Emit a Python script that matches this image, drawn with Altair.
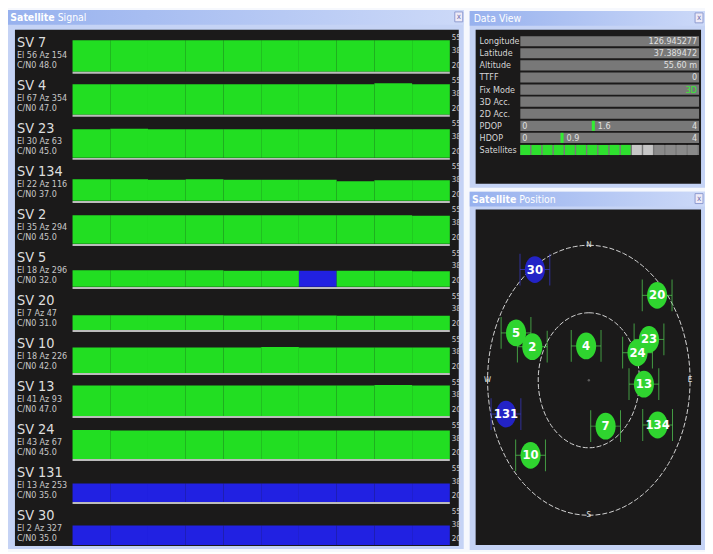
import altair as alt
import pandas as pd

FONT = "Liberation Sans Narrow, DejaVu Sans Condensed, Arial Narrow, sans-serif"
GREEN = "#22de22"
BLUE = "#2121e2"
PANEL = "#1b1a1a"
FRAME = "#c5d3f5"
GRID = "#c4c4c4"
TEXT = "#dedede"
GRAD = {"gradient": "linear", "x1": 0, "x2": 1, "y1": 0, "y2": 0,
        "stops": [{"offset": 0, "color": "#97b1ee"}, {"offset": 1, "color": "#ccd9f8"}]}

# ---------------- satellite data ----------------
sv_ids = ["7", "4", "23", "134", "2", "5", "20", "10", "13", "24", "131", "30"]
sv_elev = [56, 67, 30, 22, 35, 18, 7, 18, 41, 43, 13, 2]
sv_azim = [154, 354, 63, 116, 294, 296, 47, 226, 93, 67, 253, 327]
sv_cn0 = [48.0, 47.0, 45.0, 37.0, 45.0, 32.0, 31.0, 42.0, 47.0, 45.0, 35.0, 35.0]
sv_system = ["GPS", "GPS", "GPS", "GPS", "GPS", "GPS", "GPS", "GPS", "GPS", "GPS", "SBAS", "SBAS"]
cn0_history = [
    [48, 48, 48, 48, 48, 48, 48, 48, 48, 48],
    [47, 47, 47, 47, 47, 47, 47, 47, 48, 47],
    [45, 45.5, 45, 45, 45, 45, 45, 45, 45, 45],
    [38, 38, 37.5, 38, 37.5, 37.5, 37.5, 36, 37, 37],
    [45, 45, 45, 45, 45, 45, 45, 45, 45, 44.5],
    [33, 33, 33, 33, 32.5, 32.5, 32.5, 32.5, 32.5, 32],
    [31, 31, 31, 31, 30.8, 30.8, 30.8, 30.5, 30.5, 30.5],
    [42, 42, 42, 42, 42, 42.5, 42, 42, 42, 42],
    [47, 47, 47, 47, 47, 47, 47, 47, 47.5, 47],
    [45.5, 45, 45, 45, 45, 45, 45, 45, 45, 45],
    [35, 35, 35, 35, 35, 35, 35, 35, 35, 35],
    [36, 36, 36, 36, 36, 36, 36, 36, 36, 36],
]
sbas_history_cells = [(5, 6)]
scale_labels = ["55", "38", "20"]

# ---------------- data view ----------------
dv_labels = ["Longitude", "Latitude", "Altitude", "TTFF", "Fix Mode", "3D Acc.", "2D Acc.", "PDOP", "HDOP", "Satellites"]
dv_values = ["126.945277", "37.389472", "55.60 m", "0", "3D", "", "", "", "", ""]
dv_value_colors = ["#e0e0e0", "#e0e0e0", "#e0e0e0", "#e0e0e0", "#33ee33", "#e0e0e0", "#e0e0e0", "#e0e0e0", "#e0e0e0", "#e0e0e0"]
dop_names = ["PDOP", "HDOP"]
dop_values = [1.6, 0.9]
dop_max = [4, 4]
sat_cell_states = ["used"] * 10 + ["tracked"] * 2 + ["idle"] * 4

# ---------------- position ----------------
ring_elev = [0, 45]
compass = ["N", "E", "S", "W"]
compass_az = [0, 90, 180, 270]

one = pd.DataFrame({"k": [0]})


def chrome(view, outer, title_parts, close_xy):
    vx, vy, W, H = view
    ox0, oy0, ox1, oy1 = outer
    back = [
        alt.Chart(one).mark_rect(color=FRAME).encode(
            x=alt.value(ox0 - vx), x2=alt.value(ox1 - vx),
            y=alt.value(oy0 - vy), y2=alt.value(oy1 - vy)),
        alt.Chart(one).mark_rect(fill=GRAD).encode(
            x=alt.value(ox0 - vx), x2=alt.value(ox1 - vx),
            y=alt.value(oy0 - vy), y2=alt.value(oy0 + 15 - vy)),
        alt.Chart(one).mark_rect(color=PANEL).encode(
            x=alt.value(0), x2=alt.value(W), y=alt.value(0), y2=alt.value(H)),
    ]
    front = []
    for text, tx, bold, align in title_parts:
        front.append(alt.Chart(one).mark_text(
            text=text, align=align, baseline="middle", font=FONT, fontSize=10.5,
            fontWeight="bold" if bold else "normal", color="white").encode(
            x=alt.value(tx - vx), y=alt.value(oy0 + 8 - vy)))
    cx, cy = close_xy
    front.append(alt.Chart(one).mark_rect(fill="#eeeaf7", stroke="#8e9bd0", strokeWidth=1).encode(
        x=alt.value(cx - vx), x2=alt.value(cx + 8 - vx), y=alt.value(cy - vy), y2=alt.value(cy + 10 - vy)))
    front.append(alt.Chart(one).mark_text(text="x", fontSize=8, font=FONT, color="#6a6aa8",
                                          align="center", baseline="middle").encode(
        x=alt.value(cx + 4 - vx), y=alt.value(cy + 5 - vy)))
    return back, front


# ================= Satellite Signal =================
SV_VIEW = (15, 28, 447, 520)
SX = alt.Scale(domain=[-1.5263, 10.2368], nice=False, zero=False)
SY = alt.Scale(domain=[0, len(sv_ids)], reverse=True, nice=False, zero=False)

sig_rows = []
for i, hist in enumerate(cn0_history):
    for s, v in enumerate(hist):
        kind = "SBAS" if (i, s) in sbas_history_cells else sv_system[i]
        sig_rows.append({"row": i, "seg": s, "cn0": v, "kind": kind})
sig_df = pd.DataFrame(sig_rows)

grid_axis = alt.Axis(values=[1, 3, 4, 5, 7, 8, 9], grid=True, gridColor=GRID, gridWidth=1,
                     labels=False, ticks=False, domain=False, title=None, zindex=1)

bars = alt.Chart(sig_df).transform_calculate(
    x2="datum.seg + 1",
    ybot="datum.row + 1 - 0.025",
    ytop="datum.row + 1 - 0.025 - (datum.cn0 - 16.3) / 43.33",
    col="datum.kind == 'SBAS' ? '%s' : '%s'" % (BLUE, GREEN),
).mark_rect().encode(
    x=alt.X("seg:Q", scale=SX, axis=grid_axis),
    x2=alt.X2("x2"),
    y=alt.Y("ytop:Q", scale=SY, axis=None),
    y2=alt.Y2("ybot"),
    color=alt.Color("col:N", scale=None),
)

sep_df = pd.DataFrame({"k": list(range(1, len(sv_ids)))})
seps = alt.Chart(sep_df).transform_calculate(a="0", b="10").mark_rule(
    color="#bcbcbc", strokeWidth=2).encode(
    x=alt.X("a:Q", scale=SX, axis=None), x2=alt.X2("b"),
    y=alt.Y("k:Q", scale=SY, axis=None))

# right-hand dB scale labels of every row
sl_rows = []
for i in range(len(sv_ids)):
    for lab, f in zip(scale_labels, (0.2, 0.5, 0.84)):
        sl_rows.append({"pos": i + f, "lab": lab})
sl_df = pd.DataFrame(sl_rows)
scale_txt = alt.Chart(sl_df).mark_text(align="left", baseline="middle", font=FONT, fontSize=8,
                                       color="#cfcfcf").encode(
    x=alt.value(440), y=alt.Y("pos:Q", scale=SY, axis=None), text="lab:N")

lab_df = pd.DataFrame({
    "row": list(range(len(sv_ids))),
    "sv": ["SV " + s for s in sv_ids],
    "l2": ["El %d Az %d" % (e, a) for e, a in zip(sv_elev, sv_azim)],
    "l3": ["C/N0 %.1f" % c for c in sv_cn0],
})
lab_base = alt.Chart(lab_df).transform_calculate(
    y1="datum.row + 0.40", y2="datum.row + 0.645", y3="datum.row + 0.88")
lab1 = lab_base.mark_text(align="left", baseline="alphabetic", font=FONT, fontSize=14.5, color=TEXT).encode(
    x=alt.value(2), y=alt.Y("y1:Q", scale=SY, axis=None), text="sv:N")
lab2 = lab_base.mark_text(align="left", baseline="alphabetic", font=FONT, fontSize=9, color="#c8c8c8").encode(
    x=alt.value(2), y=alt.Y("y2:Q", scale=SY, axis=None), text="l2:N")
lab3 = lab_base.mark_text(align="left", baseline="alphabetic", font=FONT, fontSize=9, color="#c8c8c8").encode(
    x=alt.value(2), y=alt.Y("y3:Q", scale=SY, axis=None), text="l3:N")

b1, f1 = chrome(SV_VIEW, (8, 8, 467, 551),
                [("Satellite", 55, True, "right"), ("Signal", 58, False, "left")], (458, 10))
signal_chart = alt.layer(*b1, bars, seps, scale_txt, lab1, lab2, lab3, *f1).properties(
    width=SV_VIEW[2], height=SV_VIEW[3])

# ================= Data View =================
DV_VIEW = (479, 27, 227, 155)
SXd = alt.Scale(domain=[-0.25, 1.0111], nice=False, zero=False)
SYd = alt.Scale(domain=[-0.945, 11.79], reverse=True, nice=False, zero=False)

dv_df = pd.DataFrame({"row": list(range(len(dv_labels))), "label": dv_labels,
                      "value": dv_values, "vcolor": dv_value_colors})
dv_bars = alt.Chart(dv_df).transform_calculate(
    y0="datum.row - 0.42", y1="datum.row + 0.42", b0="0", b1="1").mark_rect(color="#787878").encode(
    x=alt.X("b0:Q", scale=SXd, axis=None), x2=alt.X2("b1"),
    y=alt.Y("y0:Q", scale=SYd, axis=None), y2=alt.Y2("y1"))
dv_lab = alt.Chart(dv_df).mark_text(align="left", baseline="middle", font=FONT, fontSize=9, color="#d6d6d6").encode(
    x=alt.value(4), y=alt.Y("row:Q", scale=SYd, axis=None), text="label:N")
dv_val = alt.Chart(dv_df).mark_text(align="right", baseline="middle", font=FONT, fontSize=9).encode(
    x=alt.value(223), y=alt.Y("row:Q", scale=SYd, axis=None), text="value:N",
    color=alt.Color("vcolor:N", scale=None))

dop_df = pd.DataFrame({"row": [dv_labels.index(n) for n in dop_names], "value": dop_values, "max": dop_max})
dop_base = alt.Chart(dop_df).transform_calculate(
    f="datum.value / datum.max", f2="datum.value / datum.max + 0.017",
    y0="datum.row - 0.42", y1="datum.row + 0.42")
dop_mark = dop_base.mark_rect(color="#33ee33").encode(
    x=alt.X("f:Q", scale=SXd, axis=None), x2=alt.X2("f2"),
    y=alt.Y("y0:Q", scale=SYd, axis=None), y2=alt.Y2("y1"))
dop_txt = dop_base.mark_text(align="left", baseline="middle", font=FONT, fontSize=9, color="#e0e0e0", dx=3).encode(
    x=alt.X("f2:Q", scale=SXd, axis=None), y=alt.Y("row:Q", scale=SYd, axis=None),
    text=alt.Text("value:Q", format=".1f"))
dop_zero = dop_base.mark_text(align="left", baseline="middle", font=FONT, fontSize=9, color="#e0e0e0", text="0").encode(
    x=alt.value(47), y=alt.Y("row:Q", scale=SYd, axis=None))
dop_maxt = dop_base.mark_text(align="right", baseline="middle", font=FONT, fontSize=9, color="#e0e0e0").encode(
    x=alt.value(223), y=alt.Y("row:Q", scale=SYd, axis=None), text=alt.Text("max:Q", format="d"))

n_cells = len(sat_cell_states)
sat_row = dv_labels.index("Satellites")
cell_df = pd.DataFrame({"k": list(range(n_cells)), "state": sat_cell_states})
cells = alt.Chart(cell_df).transform_calculate(
    c0="datum.k / %d" % n_cells, c1="(datum.k + 1) / %d - 0.008" % n_cells,
    y0="%d - 0.42" % sat_row, y1="%d + 0.42" % sat_row,
    col="datum.state == 'used' ? '#2ee02e' : (datum.state == 'tracked' ? '#c6c6c6' : '#8a8a8a')",
).mark_rect().encode(
    x=alt.X("c0:Q", scale=SXd, axis=None), x2=alt.X2("c1"),
    y=alt.Y("y0:Q", scale=SYd, axis=None), y2=alt.Y2("y1"),
    color=alt.Color("col:N", scale=None))

b2, f2 = chrome(DV_VIEW, (473, 8, 710, 186), [("Data View", 477, False, "left")], (700, 10))
dv_chart = alt.layer(*b2, dv_bars, cells, dv_lab, dv_val, dop_mark, dop_txt, dop_zero, dop_maxt, *f2).properties(
    width=DV_VIEW[2], height=DV_VIEW[3])

# ================= Satellite Position =================
POS_VIEW = (479, 208, 227, 338)
SXp = alt.Scale(domain=[-1.1176, 1.1078], nice=False, zero=False)
SYp = alt.Scale(domain=[-1.2206, 1.2647], nice=False, zero=False)

rings = []
for el in ring_elev:
    rings.append(alt.Chart(alt.sequence(0, 364, 4, as_="a")).transform_calculate(
        r="(90 - %d) / 90" % el,
        px="datum.r * sin(datum.a * PI / 180)",
        py="datum.r * cos(datum.a * PI / 180)").mark_line(
        color="#d4d4d4", strokeWidth=1, strokeDash=[5, 2]).encode(
        x=alt.X("px:Q", scale=SXp, axis=None), y=alt.Y("py:Q", scale=SYp, axis=None), order="a:Q"))

comp_df = pd.DataFrame({"d": compass, "az": compass_az})
comp = alt.Chart(comp_df).transform_calculate(
    px="sin(datum.az * PI / 180)", py="cos(datum.az * PI / 180)").mark_text(
    font=FONT, fontSize=8, color="#e6e6e6", align="center", baseline="middle").encode(
    x=alt.X("px:Q", scale=SXp, axis=None), y=alt.Y("py:Q", scale=SYp, axis=None), text="d:N")

center = alt.Chart(one).mark_point(filled=True, size=6, color="#777777").encode(
    x=alt.datum(0, scale=SXp, axis=None), y=alt.datum(0, scale=SYp, axis=None))

pos_df = pd.DataFrame({"sv": sv_ids, "el": sv_elev, "az": sv_azim, "kind": sv_system})
pos_base = alt.Chart(pos_df).transform_calculate(
    r="(90 - datum.el) / 90",
    px="datum.r * sin(datum.az * PI / 180)",
    py="datum.r * cos(datum.az * PI / 180)",
    lcol="datum.kind == 'SBAS' ? '#3b3bd0' : '#55d455'",
    dcol="datum.kind == 'SBAS' ? '#2323c6' : '#2fd42f'")
pxe = alt.X("px:Q", scale=SXp, axis=None)
pye = alt.Y("py:Q", scale=SYp, axis=None)
line_col = alt.Color("lcol:N", scale=None)
hline = pos_base.mark_tick(orient="horizontal", size=30, thickness=1).encode(x=pxe, y=pye, color=line_col)
vl = pos_base.mark_tick(orient="vertical", size=32, thickness=1, xOffset=-15).encode(x=pxe, y=pye, color=line_col)
vr = pos_base.mark_tick(orient="vertical", size=32, thickness=1, xOffset=15).encode(x=pxe, y=pye, color=line_col)
ELLIPSE = ("M0,-1 C0.4142,-1 0.75,-0.5523 0.75,0 C0.75,0.5523 0.4142,1 0,1 "
           "C-0.4142,1 -0.75,0.5523 -0.75,0 C-0.75,-0.5523 -0.4142,-1 0,-1 Z")
dots = pos_base.mark_point(filled=True, shape=ELLIPSE, size=729, opacity=1, strokeWidth=0).encode(
    x=pxe, y=pye, color=alt.Color("dcol:N", scale=None))
nums = pos_base.mark_text(font=FONT, fontSize=13, fontWeight="bold", color="white",
                          align="center", baseline="middle").encode(x=pxe, y=pye, text="sv:N")

b3, f3 = chrome(POS_VIEW, (473, 190, 710, 551),
                [("Satellite", 520, True, "right"), ("Position", 523, False, "left")], (700, 192))
pos_chart = alt.layer(*b3, *rings, comp, center, hline, vl, vr, dots, nums, *f3).properties(
    width=POS_VIEW[2], height=POS_VIEW[3])

chart = alt.hconcat(
    signal_chart,
    alt.vconcat(dv_chart, pos_chart, spacing=4),
    spacing=6,
).properties(padding=0, background="#f6f8fd").configure_view(stroke=None)

chart.save("out.html", embed_options={"renderer": "svg", "actions": False})
